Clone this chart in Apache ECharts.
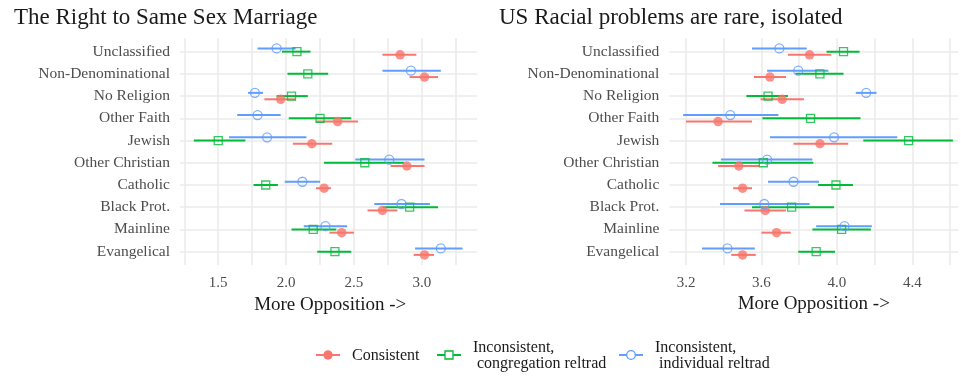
<!DOCTYPE html>
<html>
<head>
<meta charset="utf-8">
<script src="https://cdn.jsdelivr.net/npm/echarts@6/dist/echarts.min.js"></script>
<style>
  html, body { margin: 0; padding: 0; background: #ffffff; }
  #chart { width: 961px; height: 379px; }
</style>
</head>
<body>
<div id="chart"></div>
<script>
// Religious traditions, top to bottom
const traditions = ['Unclassified', 'Non-Denominational', 'No Religion', 'Other Faith', 'Jewish',
  'Other Christian', 'Catholic', 'Black Prot.', 'Mainline', 'Evangelical'];

// Panel titles and legend labels
const panelTitles = ['The Right to Same Sex Marriage', 'US Racial problems are rare, isolated'];
const axisTitle = 'More Opposition ->';
const groupLabels = ['Consistent', 'Inconsistent,\n congregation reltrad', 'Inconsistent,\n individual reltrad'];

// Same sex marriage: [estimate, lower, upper] per tradition
const ssmConsistent = [[2.84, 2.71, 2.96], [3.02, 2.91, 3.12], [1.96, 1.84, 2.07], [2.38, 2.22, 2.53], [2.19, 2.05, 2.34],
  [2.89, 2.77, 3.02], [2.28, 2.22, 2.33], [2.71, 2.60, 2.82], [2.41, 2.32, 2.50], [3.02, 2.94, 3.09]];
const ssmCongregation = [[2.08, 1.97, 2.18], [2.16, 2.01, 2.31], [2.04, 1.93, 2.16], [2.25, 2.02, 2.48], [1.50, 1.32, 1.70],
  [2.58, 2.28, 2.87], [1.85, 1.76, 1.94], [2.91, 2.71, 3.12], [2.20, 2.04, 2.37], [2.36, 2.23, 2.48]];
const ssmIndividual = [[1.93, 1.79, 2.07], [2.92, 2.71, 3.14], [1.77, 1.72, 1.83], [1.79, 1.64, 1.96], [1.86, 1.58, 2.15],
  [2.76, 2.51, 3.02], [2.12, 1.99, 2.25], [2.85, 2.65, 3.06], [2.29, 2.13, 2.45], [3.14, 2.95, 3.30]];

// Racial problems rare/isolated: [estimate, lower, upper] per tradition
const raceConsistent = [[3.855, 3.74, 3.97], [3.645, 3.56, 3.73], [3.71, 3.595, 3.825], [3.37, 3.20, 3.55], [3.91, 3.77, 4.06],
  [3.48, 3.37, 3.59], [3.50, 3.45, 3.55], [3.62, 3.51, 3.73], [3.68, 3.60, 3.755], [3.50, 3.44, 3.57]];
const raceCongregation = [[4.035, 3.945, 4.12], [3.91, 3.78, 4.035], [3.635, 3.52, 3.74], [3.86, 3.605, 4.125], [4.38, 4.14, 4.615],
  [3.61, 3.34, 3.875], [3.995, 3.90, 4.085], [3.76, 3.55, 3.985], [4.025, 3.87, 4.18], [3.89, 3.795, 3.99]];
const raceIndividual = [[3.695, 3.55, 3.84], [3.795, 3.63, 3.955], [4.155, 4.10, 4.21], [3.435, 3.185, 3.69], [3.985, 3.645, 4.32],
  [3.63, 3.385, 3.87], [3.77, 3.635, 3.905], [3.615, 3.38, 3.855], [4.04, 3.89, 4.185], [3.42, 3.285, 3.565]];

const FONT = '"Liberation Serif", "DejaVu Serif", serif';
const COLORS = ['#F8766D', '#00BA38', '#619CFF'];
const GRIDLINE = { color: '#ebebeb', width: 1.6 };
// vertical dodge between the three groups (in category units)
const DODGE = [0.145, 0, -0.145];

const chart = echarts.init(document.getElementById('chart'), null, { renderer: 'canvas' });

function rangeSeries(rows, g, axisIdx) {
  return {
    type: 'custom',
    xAxisIndex: axisIdx, yAxisIndex: axisIdx,
    z: 2,
    silent: true,
    data: rows.map((r, i) => [i + DODGE[g], r[1], r[2]]),
    encode: { x: [1, 2], y: 0 },
    renderItem: function (params, api) {
      const a = api.coord([api.value(1), api.value(0)]);
      const b = api.coord([api.value(2), api.value(0)]);
      return {
        type: 'line',
        shape: { x1: a[0], y1: a[1], x2: b[0], y2: b[1] },
        style: { stroke: COLORS[g], lineWidth: 2 }
      };
    }
  };
}

function pointSeries(rows, g, axisIdx) {
  const styles = [
    { symbol: 'circle', symbolSize: 9.5, itemStyle: { color: COLORS[0] } },
    { symbol: 'rect', symbolSize: 8, itemStyle: { color: 'rgba(0,0,0,0)', borderColor: COLORS[1], borderWidth: 1.3 } },
    { symbol: 'circle', symbolSize: 9, itemStyle: { color: 'rgba(0,0,0,0)', borderColor: COLORS[2], borderWidth: 1.3 } }
  ];
  return Object.assign({
    type: 'scatter',
    xAxisIndex: axisIdx, yAxisIndex: axisIdx,
    z: 3,
    silent: true,
    data: rows.map((r, i) => [r[0], i + DODGE[g]])
  }, styles[g]);
}

function labelFormatter(step) {
  return function (v) {
    const k = v / step;
    return Math.abs(k - Math.round(k)) < 1e-6 ? v.toFixed(1) : '';
  };
}

const catAxis = (gridIndex) => ({
  type: 'category', gridIndex: gridIndex, data: traditions, inverse: true, boundaryGap: false,
  axisLine: { show: false }, axisTick: { show: false },
  axisLabel: { color: '#4d4d4d', fontSize: 15.5, fontFamily: FONT, margin: 10 },
  splitLine: { show: true, lineStyle: GRIDLINE }
});
const hiddenY = (gridIndex) => ({
  type: 'value', gridIndex: gridIndex, min: -0.6, max: 9.6, inverse: true, show: false
});
const dataX = (gridIndex, min, max, step, name) => ({
  type: 'value', gridIndex: gridIndex, min: min, max: max, interval: step,
  name: name, nameLocation: 'middle', nameGap: 30,
  nameTextStyle: { color: '#1a1a1a', fontSize: 19, fontFamily: FONT },
  axisLine: { show: false }, axisTick: { show: false },
  axisLabel: { color: '#4d4d4d', fontSize: 15, fontFamily: FONT, margin: 11,
    showMinLabel: true, showMaxLabel: false, formatter: labelFormatter(step * 2) },
  splitLine: { show: true, lineStyle: GRIDLINE, showMinLine: true, showMaxLine: false }
});
const frameX = (gridIndex, name) => ({
  type: 'value', gridIndex: gridIndex, min: 0, max: 1,
  name: name, nameLocation: 'middle', nameGap: 43.4,
  nameTextStyle: { color: '#1a1a1a', fontSize: 19, fontFamily: FONT },
  axisLine: { show: false }, axisTick: { show: false }, axisLabel: { show: false }, splitLine: { show: false }
});

// legend keys: line + marker + label
function legendItem(x, g) {
  const marker = g === 0
    ? { type: 'circle', shape: { cx: x + 12, cy: 0, r: 4.7 }, style: { fill: COLORS[0] } }
    : g === 1
      ? { type: 'rect', shape: { x: x + 8, y: -4, width: 8, height: 8 }, style: { fill: '#fff', stroke: COLORS[1], lineWidth: 1.3 } }
      : { type: 'circle', shape: { cx: x + 12, cy: 0, r: 4.3 }, style: { fill: '#fff', stroke: COLORS[2], lineWidth: 1.3 } };
  const line = { type: 'line', shape: { x1: x, y1: 0, x2: x + 24, y2: 0 }, style: { stroke: COLORS[g], lineWidth: 2 } };
  if (g > 0) { marker.z = 2; line.z = 1; }
  const text = {
    type: 'text', x: x + 36, y: 1,
    style: { text: groupLabels[g], fill: '#1a1a1a', font: '16px ' + FONT, textAlign: 'left', textVerticalAlign: 'middle', lineHeight: 16 }
  };
  return [line, marker, text];
}

const option = {
  animation: false,
  backgroundColor: '#ffffff',
  title: [
    { text: panelTitles[0], left: 9, top: 1, textStyle: { fontSize: 23, fontWeight: 'normal', color: '#1a1a1a', fontFamily: FONT } },
    { text: panelTitles[1], left: 494, top: 1, textStyle: { fontSize: 23, fontWeight: 'normal', color: '#1a1a1a', fontFamily: FONT } }
  ],
  grid: [
    { left: 180, top: 51.6, width: 297, height: 200 },
    { left: 184.3, top: 38.3, width: 291.8, height: 226.7 },
    { left: 669.3, top: 51.6, width: 289, height: 200 },
    { left: 686, top: 38.3, width: 272.2, height: 226.7 }
  ],
  xAxis: [
    frameX(0, ''),
    dataX(1, 1.25, 3.4, 0.25, axisTitle),
    frameX(2, axisTitle),
    dataX(3, 3.2, 4.643, 0.2, '')
  ],
  yAxis: [catAxis(0), hiddenY(1), catAxis(2), hiddenY(3)],
  series: [
    rangeSeries(ssmConsistent, 0, 1), rangeSeries(ssmCongregation, 1, 1), rangeSeries(ssmIndividual, 2, 1),
    rangeSeries(raceConsistent, 0, 3), rangeSeries(raceCongregation, 1, 3), rangeSeries(raceIndividual, 2, 3),
    pointSeries(ssmConsistent, 0, 1), pointSeries(ssmCongregation, 1, 1), pointSeries(ssmIndividual, 2, 1),
    pointSeries(raceConsistent, 0, 3), pointSeries(raceCongregation, 1, 3), pointSeries(raceIndividual, 2, 3)
  ],
  graphic: [
    { type: 'group', x: 0, y: 355, children: [].concat(legendItem(316, 0), legendItem(437, 1), legendItem(619, 2)) }
  ]
};

chart.setOption(option);
</script>
</body>
</html>
